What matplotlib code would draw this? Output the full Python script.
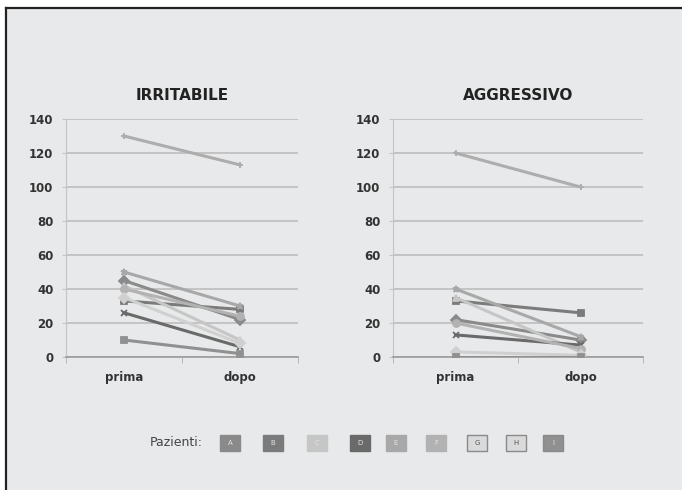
"""Pre/post scores per patient, two side-by-side slope charts."""

import matplotlib
matplotlib.use("Agg")
import matplotlib.pyplot as plt
from matplotlib.patches import Rectangle
from matplotlib.lines import Line2D

phases = ["prima", "dopo"]
patients = ["A", "B", "C", "D", "E", "F", "G", "H", "I"]

irritabile_prima = [45, 33, 42, 26, 50, 40, 130, 35, 10]
irritabile_dopo = [22, 28, 10, 6, 30, 24, 113, 8, 2]

aggressivo_prima = [22, 33, 35, 13, 40, 20, 120, 3, 0]
aggressivo_dopo = [10, 26, 3, 7, 12, 5, 100, 1, 0]

y_ticks = [0, 20, 40, 60, 80, 100, 120, 140]

colors = ["#8a8a8a", "#7b7b7b", "#c6c6c6", "#6a6a6a", "#a8a8a8",
          "#b2b2b2", "#adadad", "#d0d0d0", "#909090"]
markers = ["D", "s", "^", "x", "*", "o", "+", "D", "s"]

BG = "#e8e9ea"
GRID = "#bdbdbd"
TXT = "#333333"

fig = plt.figure(figsize=(6.82, 4.90), dpi=100)
fig.patch.set_facecolor("white")

# panel background with a dark frame on the top and left edges
fig.add_artist(Rectangle((6 / 682, 0), 1, 1 - 8 / 490, transform=fig.transFigure,
                         facecolor=BG, edgecolor="none", zorder=-10))
fig.add_artist(Line2D([6 / 682, 6 / 682], [0, 1 - 8 / 490], transform=fig.transFigure,
                      color="#222222", lw=1.6))
fig.add_artist(Line2D([6 / 682, 1], [1 - 8 / 490, 1 - 8 / 490], transform=fig.transFigure,
                      color="#222222", lw=1.6))


def slope_panel(ax, title, prima, dopo):
    ax.set_facecolor(BG)
    for i, p in enumerate(patients):
        ax.plot([0, 1], [prima[i], dopo[i]], color=colors[i], lw=2.2,
                marker=markers[i], ms=5, mew=1.3, label=p, zorder=3)
    ax.set_xlim(-0.5, 1.5)
    ax.set_ylim(0, 140)
    ax.set_yticks(y_ticks)
    ax.set_xticks([0, 1])
    ax.set_xticklabels(phases)
    ax.set_xticks([-0.5, 0.5, 1.5], minor=True)
    ax.yaxis.grid(True, color=GRID, lw=1.2)
    ax.set_axisbelow(True)
    for s in ("top", "right"):
        ax.spines[s].set_visible(False)
    ax.spines["left"].set_color("#c4c4c4")
    ax.spines["bottom"].set_color("#9a9a9a")
    ax.spines["bottom"].set_linewidth(1.2)
    ax.tick_params(axis="x", which="major", length=0, pad=10)
    ax.tick_params(axis="x", which="minor", length=4, color="#b0b0b0")
    ax.tick_params(axis="y", length=3, color="#c4c4c4", pad=6)
    for lab in ax.get_xticklabels() + ax.get_yticklabels():
        lab.set_fontweight("bold")
        lab.set_color(TXT)
        lab.set_fontsize(8.5)
    ax.set_title(title, fontsize=11, fontweight="bold", color="#222222", pad=14)


ax1 = fig.add_axes([66 / 682, 1 - 357 / 490, 232 / 682, 238 / 490])
ax2 = fig.add_axes([393 / 682, 1 - 357 / 490, 250 / 682, 238 / 490])
slope_panel(ax1, "IRRITABILE", irritabile_prima, irritabile_dopo)
slope_panel(ax2, "AGGRESSIVO", aggressivo_prima, aggressivo_dopo)

# key row along the bottom
fig.text(150 / 682, 1 - 443 / 490, "Pazienti:", fontsize=9, color="#444444",
         ha="left", va="center")
box_x = [230, 273, 317, 360, 396, 436, 477, 516, 553]
bw, bh = 20 / 682, 16 / 490
for i, p in enumerate(patients):
    cx = box_x[i] / 682
    cy = 1 - 443 / 490
    light = i in (6, 7)
    face = "#dadada" if light else colors[i]
    edge = "#8a8a8a" if i in (6, 7, 8) else face
    fig.add_artist(Rectangle((cx - bw / 2, cy - bh / 2), bw, bh,
                             transform=fig.transFigure, facecolor=face,
                             edgecolor=edge, lw=1))
    fig.text(cx, cy, p, fontsize=5, ha="center", va="center",
             color="#555555" if light else "#e4e4e4")

fig.savefig("out.png", dpi=100, facecolor=fig.get_facecolor())
